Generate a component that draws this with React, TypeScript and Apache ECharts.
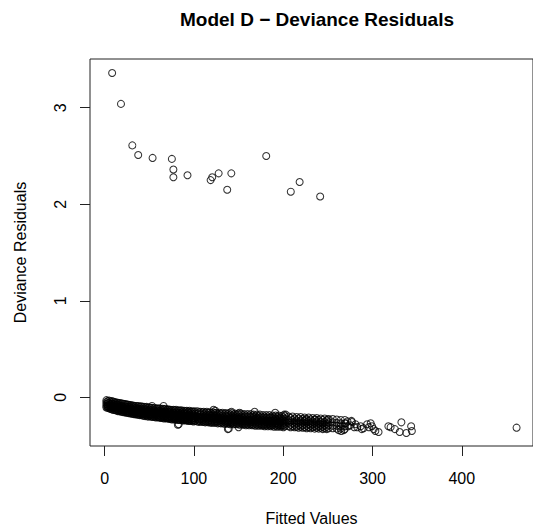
import React, { useEffect, useRef } from "react";
import * as echarts from "echarts";

const FONT = '"Liberation Sans", Arial, Helvetica, sans-serif';

const titleText = "Model D \u2212 Deviance Residuals";
const xLabel = "Fitted Values";
const yLabel = "Deviance Residuals";

const xTicks = [0, 100, 200, 300, 400];
const yTicks = [0, 1, 2, 3];

// Large positive residuals (outliers)
const outlierFitted = [8.4, 18.3, 31.0, 37.6, 53.7, 75.3, 77.0, 77.0, 92.8, 118.7, 120.5, 127.7, 141.9, 137.3, 181.0, 218.4, 208.5, 241.4];
const outlierResid = [3.36, 3.04, 2.61, 2.51, 2.48, 2.47, 2.36, 2.28, 2.30, 2.25, 2.28, 2.32, 2.32, 2.15, 2.50, 2.23, 2.13, 2.08];

// Dense band, part A: each row = [fitted value, residuals at that fitted value...]
const bandColumnsA: number[][] = [
  [2, -0.03, -0.05, -0.07, -0.09, -0.105],
  [5, -0.035, -0.06, -0.08, -0.1, -0.115],
  [8, -0.04, -0.065, -0.085, -0.105, -0.125],
  [11, -0.05, -0.07, -0.095, -0.11, -0.13],
  [14, -0.055, -0.075, -0.1, -0.12, -0.14],
  [17, -0.06, -0.085, -0.1, -0.125, -0.14],
  [20, -0.065, -0.09, -0.11, -0.13, -0.15],
  [23, -0.07, -0.095, -0.115, -0.135, -0.155],
  [26, -0.075, -0.1, -0.12, -0.14, -0.16],
  [29, -0.08, -0.1, -0.125, -0.145, -0.165],
  [32, -0.085, -0.105, -0.13, -0.15, -0.17],
  [35, -0.09, -0.11, -0.135, -0.155, -0.175],
  [38, -0.09, -0.115, -0.135, -0.16, -0.18],
  [41, -0.095, -0.12, -0.14, -0.165, -0.18],
  [44, -0.1, -0.12, -0.145, -0.17, -0.19],
  [47, -0.1, -0.125, -0.15, -0.17, -0.19],
  [50, -0.105, -0.13, -0.15, -0.175, -0.195],
  [53, -0.11, -0.13, -0.155, -0.18, -0.2],
  [56, -0.11, -0.135, -0.16, -0.18, -0.2],
  [59, -0.115, -0.14, -0.16, -0.185, -0.205],
  [62, -0.115, -0.14, -0.165, -0.19, -0.21],
  [65, -0.12, -0.145, -0.17, -0.19, -0.21],
  [68, -0.12, -0.145, -0.17, -0.195, -0.215],
  [71, -0.125, -0.15, -0.175, -0.2, -0.215],
  [74, -0.13, -0.15, -0.175, -0.2, -0.22],
  [77, -0.13, -0.155, -0.18, -0.205, -0.225],
  [80, -0.13, -0.155, -0.18, -0.205, -0.225],
  [83, -0.135, -0.16, -0.185, -0.21, -0.23],
  [86, -0.135, -0.16, -0.185, -0.21, -0.23],
  [89, -0.14, -0.165, -0.19, -0.215, -0.235],
  [92, -0.14, -0.165, -0.19, -0.215, -0.235],
  [95, -0.14, -0.165, -0.19, -0.22, -0.24],
  [98, -0.145, -0.17, -0.195, -0.22, -0.24],
  [101, -0.145, -0.17, -0.195, -0.22, -0.245],
  [104, -0.145, -0.17, -0.2, -0.225, -0.25],
  [107.5, -0.15, -0.175, -0.2, -0.225, -0.25],
  [111, -0.15, -0.175, -0.205, -0.23, -0.255],
  [114.5, -0.15, -0.18, -0.205, -0.23, -0.255],
  [118, -0.155, -0.18, -0.21, -0.235, -0.26],
  [121.5, -0.155, -0.18, -0.21, -0.235, -0.26],
  [125, -0.16, -0.185, -0.21, -0.24, -0.26],
  [128.5, -0.16, -0.185, -0.215, -0.24, -0.265],
  [132, -0.16, -0.19, -0.215, -0.24, -0.265],
  [135.5, -0.165, -0.19, -0.22, -0.245, -0.27],
  [139, -0.165, -0.19, -0.22, -0.245, -0.27],
  [142.5, -0.165, -0.195, -0.22, -0.25, -0.27],
  [146, -0.17, -0.195, -0.225, -0.25, -0.275],
  [149.5, -0.17, -0.2, -0.225, -0.25, -0.275],
  [153, -0.17, -0.2, -0.23, -0.255, -0.275],
  [156.5, -0.175, -0.2, -0.23, -0.255, -0.28],
  [160, -0.175, -0.205, -0.23, -0.255, -0.28],
  [163.5, -0.175, -0.205, -0.235, -0.26, -0.28],
  [167, -0.18, -0.205, -0.235, -0.26, -0.285],
  [170.5, -0.18, -0.21, -0.235, -0.26, -0.285],
  [174, -0.18, -0.21, -0.24, -0.265, -0.285],
  [177.5, -0.185, -0.21, -0.24, -0.265, -0.29],
  [181, -0.185, -0.215, -0.24, -0.265, -0.29],
  [184.5, -0.185, -0.215, -0.245, -0.27, -0.29],
  [188, -0.19, -0.215, -0.245, -0.27, -0.29],
  [191.5, -0.19, -0.22, -0.245, -0.27, -0.295],
  [195, -0.19, -0.22, -0.25, -0.275, -0.295],
  [198.5, -0.195, -0.22, -0.25, -0.275, -0.295],
  [202, -0.195, -0.225, -0.25, -0.275, -0.3],
  [206, -0.2, -0.235, -0.265, -0.3],
  [210.5, -0.2, -0.235, -0.27, -0.3],
  [215, -0.205, -0.24, -0.27, -0.305],
  [219.5, -0.205, -0.24, -0.275, -0.305],
  [224, -0.21, -0.245, -0.275, -0.31],
  [228.5, -0.21, -0.245, -0.28, -0.31],
  [233, -0.215, -0.25, -0.28, -0.31],
  [237.5, -0.215, -0.25, -0.285, -0.315],
  [242, -0.22, -0.255, -0.285, -0.315],
  [246.5, -0.22, -0.255, -0.29, -0.32],
  [251, -0.225, -0.26, -0.29, -0.32],
  [255.5, -0.225, -0.26, -0.295, -0.32],
  [260, -0.23, -0.265, -0.295, -0.325],
  [264.5, -0.235, -0.27, -0.3, -0.325],
  [269, -0.235, -0.27, -0.3, -0.33],
];

// Dense band, part B: points lying between the columns of part A
const bandColumnsB: number[][] = [
  [3.5, -0.04, -0.06, -0.08, -0.095, -0.11],
  [6.5, -0.045, -0.07, -0.09, -0.105, -0.12],
  [9.5, -0.045, -0.075, -0.095, -0.115, -0.13],
  [12.5, -0.055, -0.08, -0.1, -0.12, -0.135],
  [15.5, -0.06, -0.08, -0.11, -0.13, -0.145],
  [18.5, -0.065, -0.09, -0.115, -0.135, -0.15],
  [21.5, -0.07, -0.1, -0.12, -0.14, -0.155],
  [24.5, -0.075, -0.105, -0.125, -0.145, -0.16],
  [27.5, -0.08, -0.11, -0.13, -0.15, -0.165],
  [30.5, -0.085, -0.115, -0.135, -0.155, -0.17],
  [33.5, -0.09, -0.12, -0.14, -0.16, -0.175],
  [36.5, -0.095, -0.12, -0.145, -0.165, -0.18],
  [39.5, -0.1, -0.125, -0.15, -0.17, -0.185],
  [42.5, -0.1, -0.13, -0.155, -0.175, -0.19],
  [45.5, -0.105, -0.135, -0.16, -0.18, -0.195],
  [48.5, -0.11, -0.14, -0.16, -0.185, -0.2],
  [51.5, -0.11, -0.14, -0.165, -0.185, -0.2],
  [54.5, -0.115, -0.145, -0.17, -0.19, -0.205],
  [57.5, -0.12, -0.15, -0.17, -0.195, -0.21],
  [60.5, -0.12, -0.15, -0.175, -0.2, -0.21],
  [63.5, -0.125, -0.155, -0.18, -0.2, -0.215],
  [66.5, -0.125, -0.155, -0.18, -0.205, -0.22],
  [69.5, -0.13, -0.16, -0.185, -0.21, -0.22],
  [72.5, -0.13, -0.16, -0.19, -0.21, -0.225],
  [75.5, -0.135, -0.165, -0.19, -0.215, -0.23],
  [78.5, -0.135, -0.165, -0.195, -0.215, -0.23],
  [81.5, -0.14, -0.17, -0.195, -0.22, -0.235],
  [84.5, -0.14, -0.17, -0.2, -0.22, -0.235],
  [87.5, -0.145, -0.175, -0.2, -0.225, -0.24],
  [90.5, -0.145, -0.175, -0.205, -0.225, -0.24],
  [93.5, -0.15, -0.18, -0.205, -0.23, -0.245],
  [96.5, -0.15, -0.18, -0.205, -0.23, -0.245],
  [99.5, -0.15, -0.18, -0.21, -0.235, -0.25],
  [105.75, -0.155, -0.185, -0.21, -0.24, -0.255],
  [109.25, -0.155, -0.185, -0.215, -0.24, -0.255],
  [112.75, -0.16, -0.19, -0.215, -0.245, -0.26],
  [116.25, -0.16, -0.19, -0.22, -0.245, -0.26],
  [119.75, -0.165, -0.195, -0.22, -0.25, -0.265],
  [123.25, -0.165, -0.195, -0.225, -0.25, -0.265],
  [126.75, -0.17, -0.2, -0.225, -0.25, -0.27],
  [130.25, -0.17, -0.2, -0.23, -0.255, -0.27],
  [133.75, -0.175, -0.205, -0.23, -0.255, -0.275],
  [137.25, -0.175, -0.205, -0.235, -0.26, -0.275],
  [140.75, -0.18, -0.21, -0.235, -0.26, -0.28],
  [144.25, -0.18, -0.21, -0.24, -0.26, -0.28],
  [147.75, -0.18, -0.21, -0.24, -0.265, -0.28],
  [151.25, -0.185, -0.215, -0.24, -0.265, -0.285],
  [154.75, -0.185, -0.215, -0.245, -0.27, -0.285],
  [158.25, -0.19, -0.22, -0.245, -0.27, -0.29],
  [161.75, -0.19, -0.22, -0.245, -0.27, -0.29],
  [165.25, -0.19, -0.22, -0.25, -0.275, -0.29],
  [168.75, -0.195, -0.225, -0.25, -0.275, -0.295],
  [172.25, -0.195, -0.225, -0.255, -0.275, -0.295],
  [175.75, -0.2, -0.23, -0.255, -0.28, -0.295],
  [179.25, -0.2, -0.23, -0.255, -0.28, -0.3],
  [182.75, -0.2, -0.23, -0.26, -0.28, -0.3],
  [186.25, -0.205, -0.235, -0.26, -0.285, -0.3],
  [189.75, -0.205, -0.235, -0.26, -0.285, -0.305],
  [193.25, -0.205, -0.235, -0.265, -0.285, -0.305],
  [196.75, -0.21, -0.24, -0.265, -0.29, -0.305],
  [200.25, -0.21, -0.24, -0.265, -0.29, -0.31],
  [208.25, -0.215, -0.25, -0.285, -0.31],
  [212.75, -0.22, -0.255, -0.285, -0.31],
  [217.25, -0.22, -0.255, -0.29, -0.315],
  [221.75, -0.225, -0.26, -0.29, -0.315],
  [226.25, -0.225, -0.26, -0.295, -0.32],
  [230.75, -0.23, -0.265, -0.295, -0.32],
  [235.25, -0.23, -0.265, -0.3, -0.325],
  [239.75, -0.235, -0.27, -0.3, -0.325],
  [244.25, -0.235, -0.27, -0.305, -0.33],
  [248.75, -0.24, -0.275, -0.305, -0.33],
];

// Individually visible points around / beyond the band
const looseFitted = [
  53, 66, 122, 124, 142, 151, 168, 191, 201, 203,
  82, 139, 150, 138, 83,
  225, 236, 250, 265, 262, 268,
  270, 272, 273, 275, 276.5, 277, 279.5, 281, 283, 286.8, 288, 290, 294, 296, 298,
  299.5, 301.4, 303.2, 306.8, 317.8, 320.3, 325.1, 330.5, 332.4, 337.9, 343.3, 344.1,
  461.4,
];
const looseResid = [
  -0.09, -0.09, -0.13, -0.14, -0.15, -0.16, -0.15, -0.16, -0.18, -0.18,
  -0.285, -0.325, -0.31, -0.33, -0.28,
  -0.23, -0.23, -0.23, -0.35, -0.34, -0.34,
  -0.27, -0.25, -0.3, -0.29, -0.245, -0.256, -0.31, -0.28, -0.31, -0.3, -0.33, -0.32, -0.28, -0.31, -0.27,
  -0.3, -0.33, -0.35, -0.36, -0.3, -0.31, -0.33, -0.36, -0.26, -0.37, -0.3, -0.35,
  -0.315,
];

export default function App() {
  const ref = useRef<HTMLDivElement>(null);

  useEffect(() => {
    if (!ref.current) return;
    const chart = echarts.init(ref.current, undefined, { renderer: "svg" });

    const data: number[][] = [];
    [bandColumnsA, bandColumnsB].forEach((table) =>
      table.forEach((col) => {
        for (let i = 1; i < col.length; i++) data.push([col[0], col[i]]);
      })
    );
    looseFitted.forEach((x, i) => data.push([x, looseResid[i]]));
    outlierFitted.forEach((x, i) => data.push([x, outlierResid[i]]));

    chart.setOption({
      animation: false,
      graphic: [
        {
          type: "text",
          x: 317,
          y: 19,
          style: {
            text: titleText,
            fontSize: 19,
            fontWeight: "bold",
            fontFamily: FONT,
            fill: "#000",
            align: "center",
            verticalAlign: "middle",
          },
        },
      ],
      grid: {
        left: 90,
        top: 59,
        right: -10,
        bottom: 81,
        show: true,
        borderColor: "#222",
        borderWidth: 1,
        backgroundColor: "transparent",
      },
      xAxis: {
        type: "value",
        min: -16.4,
        max: 479.8,
        name: xLabel,
        nameLocation: "middle",
        nameGap: 64,
        nameTextStyle: { fontSize: 16, color: "#000", fontFamily: FONT },
        axisLine: { show: false, onZero: false },
        axisTick: { show: true, length: 10, inside: false, customValues: xTicks, lineStyle: { color: "#222", width: 1 } },
        axisLabel: { customValues: xTicks, fontSize: 16, margin: 24, color: "#000", fontFamily: FONT },
        splitLine: { show: false },
      },
      yAxis: {
        type: "value",
        min: -0.505,
        max: 3.505,
        name: yLabel,
        nameLocation: "middle",
        nameRotate: 90,
        nameGap: 62,
        nameTextStyle: { fontSize: 16, color: "#000", fontFamily: FONT },
        axisLine: { show: false, onZero: false },
        axisTick: { show: true, length: 10, inside: false, customValues: yTicks, lineStyle: { color: "#222", width: 1 } },
        axisLabel: { customValues: yTicks, fontSize: 16, margin: 22, rotate: 90, color: "#000", fontFamily: FONT },
        splitLine: { show: false },
      },
      series: [
        {
          type: "scatter",
          data,
          symbol: "circle",
          symbolSize: 7,
          itemStyle: { color: "rgba(0,0,0,0)", borderColor: "#000", borderWidth: 1.05 },
          emphasis: { disabled: true },
          clip: false,
        },
      ],
    });

    return () => chart.dispose();
  }, []);

  return (
    <div
      ref={ref}
      style={{ position: "absolute", left: 0, top: 0, width: 533, height: 531, background: "#fff" }}
    />
  );
}
